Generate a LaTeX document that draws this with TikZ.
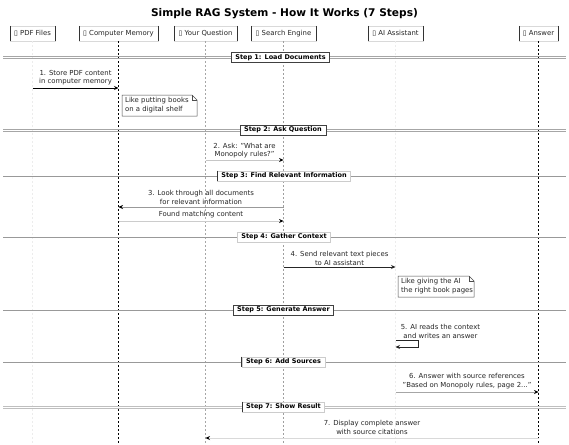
\documentclass[tikz,border=0pt]{standalone}
\usepackage{fontspec}
\setmainfont{DejaVu Sans}
\usetikzlibrary{arrows.meta,calc}
\begin{document}
\begin{tikzpicture}[x=1pt,y=-1pt,
  small/.style={font=\fontsize{6.9}{8.8}\selectfont},
  part/.style={draw=gray!30, fill=white, inner sep=0pt, minimum height=15pt, small, text=black!85},
  life/.style={dash pattern=on 2pt off 2pt, line width=0.6pt},
  msg/.style={line width=0.7pt, -{Stealth[length=4.5pt,width=4pt,inset=1.5pt]}},
  lbl/.style={small, align=center, inner sep=0pt, text=black!85},
  divbox/.style={draw=black!75, fill=white, line width=0.6pt, inner xsep=4pt, inner ysep=2pt, font=\bfseries\fontsize{6.5}{7}\selectfont},
  dline/.style={line width=0.5pt, draw=gray!70},
  sline/.style={line width=0.8pt, draw=gray!80},
  notebox/.style={small, align=left, inner xsep=3pt, inner ysep=2pt, text=black!85, anchor=north west},
  notedraw/.style={draw=black!70, line width=0.5pt, fill=white}
]
\useasboundingbox[fill=white] (0,0) rectangle (569,444);

% title
\node[font=\bfseries\fontsize{10.6}{12}\selectfont] (title) at (284.5,14) {Simple RAG System - How It Works (7 Steps)};

% participants
\node[part, minimum width=45pt] (pdf) at (32.5,33.5) {▯ PDF Files};
\node[part, minimum width=79pt] (mem) at (118.5,33.5) {▯ Computer Memory};
\node[part, minimum width=63pt] (q) at (205.5,33.5) {▯ Your Question};
\node[part, minimum width=65pt] (se) at (283.5,33.5) {▯ Search Engine};
\node[part, minimum width=55pt] (ai) at (395.5,33.5) {▯ AI Assistant};
\node[part, minimum width=39pt] (ans) at (538.5,33.5) {▯ Answer};
\foreach \p in {pdf,mem,q,se,ai,ans}{
  \draw[black!80, line width=0.6pt] (\p.north west) -- (\p.south west);
  \draw[black!80, line width=0.6pt] (\p.north east) -- (\p.south east);
}

% lifelines
\coordinate (bot) at (0,444);
\draw[life, draw=gray!15] (pdf.south) -- (pdf.south |- bot);
\draw[life, draw=black] (mem.south) -- (mem.south |- bot);
\draw[life, draw=gray!70, line width=0.5pt] (q.south) -- (q.south |- bot);
\draw[life, draw=gray!75, line width=0.5pt] (se.south) -- (se.south |- bot);
\draw[life, draw=gray!15] (ai.south) -- (ai.south |- bot);
\draw[life, draw=black] (ans.south) -- (ans.south |- bot);

% divider coordinates
\coordinate (L) at (3,0);
\coordinate (R) at (566,0);

% Step 1
\coordinate (d1) at (0,57.5);
\draw[dline] ($(L |- d1)+(0,-1)$) -- ($(R |- d1)+(0,-1)$);
\draw[dline] ($(L |- d1)+(0,1)$) -- ($(R |- d1)+(0,1)$);
\node[divbox] (s1) at (280.5,57.5) {Step 1: Load Documents};

% message 1
\coordinate (y1) at (0,88);
\draw[msg, draw=black] (pdf |- y1) -- (mem |- y1);
\node[lbl, anchor=south] (t1) at ($($(pdf |- y1)!0.5!(mem |- y1)$)+(0,-2.5)$) {1. Store PDF content\\in computer memory};

% note 1
\path (122,95) coordinate (n1a) (197,116) coordinate (n1b);
\draw[notedraw] (n1a) -- ($(n1b |- n1a)+(-5,0)$) -- ($(n1b |- n1a)+(0,5)$) -- (n1b) -- (n1a |- n1b) -- cycle;
\draw[draw=black!70, line width=0.5pt] ($(n1b |- n1a)+(-5,0)$) -- ($(n1b |- n1a)+(-5,5)$) -- ($(n1b |- n1a)+(0,5)$);
\node[notebox] (n1) at (n1a) {Like putting books\\on a digital shelf};

% Step 2
\coordinate (d2) at (0,130);
\draw[dline] ($(L |- d2)+(0,-1)$) -- ($(R |- d2)+(0,-1)$);
\draw[dline] ($(L |- d2)+(0,1)$) -- ($(R |- d2)+(0,1)$);
\node[divbox] (s2) at (283,130) {Step 2: Ask Question};

% message 2
\coordinate (y2) at (0,160);
\draw[msg, draw=gray!45] (q |- y2) -- (se |- y2);
\fill[black] (se |- y2) -- ++(-4.5,-2) -- ++(1.5,2) -- ++(-1.5,2) -- cycle;
\node[lbl, anchor=south] (t2) at ($($(q |- y2)!0.5!(se |- y2)$)+(0,-1.5)$) {2. Ask: "What are\\Monopoly rules?"};

% Step 3
\coordinate (d3) at (0,176);
\draw[sline] (L |- d3) -- (R |- d3);
\node[divbox, draw=gray!40] (s3) at (284,176) {Step 3: Find Relevant Information};
\draw[black!80, line width=0.6pt] (s3.north west) -- (s3.south west);

% message 3
\coordinate (y3) at (0,207);
\draw[msg, draw=gray!80] (se |- y3) -- (mem |- y3);
\fill[black] (mem |- y3) -- ++(4.5,-2) -- ++(-1.5,2) -- ++(1.5,2) -- cycle;
\node[lbl, anchor=south] (t3) at ($($(se |- y3)!0.5!(mem |- y3)$)+(0,-2.5)$) {3. Look through all documents\\for relevant information};

% return
\coordinate (y4) at (0,221);
\draw[msg, draw=gray!40] (mem |- y4) -- (se |- y4);
\fill[black] (se |- y4) -- ++(-4.5,-2) -- ++(1.5,2) -- ++(-1.5,2) -- cycle;
\node[lbl, anchor=south] (t4) at ($($(mem |- y4)!0.5!(se |- y4)$)+(0,-2.5)$) {Found matching content};

% Step 4
\coordinate (d4) at (0,237);
\draw[sline] (L |- d4) -- (R |- d4);
\node[divbox, draw=gray!40] (s4) at (284,237) {Step 4: Gather Context};

% message 4
\coordinate (y5) at (0,267);
\draw[msg, draw=black!85] (se |- y5) -- (ai |- y5);
\node[lbl, anchor=south] (t5) at ($($(se |- y5)!0.5!(ai |- y5)$)+(0,-1.5)$) {4. Send relevant text pieces\\to AI assistant};

% note 2
\path (398,276) coordinate (n2a) (474,297) coordinate (n2b);
\draw[notedraw] (n2a) -- ($(n2b |- n2a)+(-5,0)$) -- ($(n2b |- n2a)+(0,5)$) -- (n2b) -- (n2a |- n2b) -- cycle;
\draw[draw=black!70, line width=0.5pt] ($(n2b |- n2a)+(-5,0)$) -- ($(n2b |- n2a)+(-5,5)$) -- ($(n2b |- n2a)+(0,5)$);
\node[notebox] (n2) at (n2a) {Like giving the AI\\the right book pages};

% Step 5
\coordinate (d5) at (0,310);
\draw[sline] (L |- d5) -- (R |- d5);
\node[divbox] (s5) at (283.5,310) {Step 5: Generate Answer};

% self message
\coordinate (y6) at (0,340);
\coordinate (y6b) at (0,347);
\coordinate (loopx) at (418,0);
\node[lbl, anchor=south] (t6) at (440.5,339) {5. AI reads the context\\and writes an answer};
\draw[msg, draw=black!85] (ai |- y6) -- (loopx |- y6) -- (loopx |- y6b) -- (ai |- y6b);

% Step 6
\coordinate (d6) at (0,362);
\draw[sline] (L |- d6) -- (R |- d6);
\node[divbox, draw=gray!40] (s6) at (283.5,362) {Step 6: Add Sources};
\draw[black!80, line width=0.6pt] (s6.north west) -- (s6.south west);

% message 6
\coordinate (y7) at (0,392);
\draw[msg, draw=gray!70] (ai |- y7) -- (ans |- y7);
\fill[black] (ans |- y7) -- ++(-4.5,-2) -- ++(1.5,2) -- ++(-1.5,2) -- cycle;
\node[lbl, anchor=south] (t7) at ($($(ai |- y7)!0.5!(ans |- y7)$)+(0,-3)$) {6. Answer with source references\\"Based on Monopoly rules, page 2..."};

% Step 7
\coordinate (d7) at (0,407);
\draw[dline, draw=gray!50] ($(L |- d7)+(0,-1)$) -- ($(R |- d7)+(0,-1)$);
\draw[dline, draw=gray!50] ($(L |- d7)+(0,1)$) -- ($(R |- d7)+(0,1)$);
\node[divbox, draw=gray!40] (s7) at (283.5,407) {Step 7: Show Result};
\draw[black!80, line width=0.6pt] (s7.north west) -- (s7.south west);

% message 7
\coordinate (y8) at (0,438);
\draw[msg, draw=gray!30] (ans |- y8) -- (q |- y8);
\fill[black] (q |- y8) -- ++(4.5,-2) -- ++(-1.5,2) -- ++(1.5,2) -- cycle;
\node[lbl, anchor=south] (t8) at ($($(ans |- y8)!0.5!(q |- y8)$)+(0,-3)$) {7. Display complete answer\\with source citations};
\end{tikzpicture}
\end{document}
